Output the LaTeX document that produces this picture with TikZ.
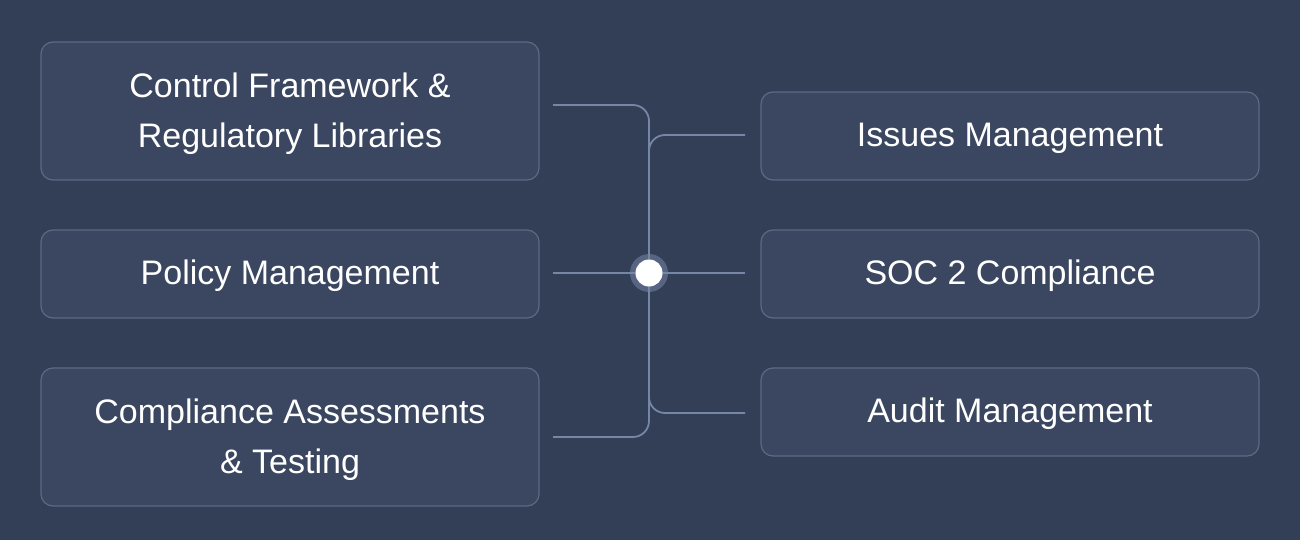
\documentclass[tikz,border=0pt]{standalone}
\usepackage{fontspec}
\setmainfont{Liberation Sans}
\definecolor{bg}{RGB}{51,62,87}
\definecolor{boxfill}{RGB}{59,71,96}
\definecolor{boxline}{RGB}{92,106,134}
\definecolor{wire}{RGB}{118,134,166}
\begin{document}
\begin{tikzpicture}[x=1pt,y=-1pt,
  card/.style={draw=boxline,fill=boxfill,line width=1.2pt,rounded corners=12pt,minimum width=498pt,inner sep=0pt},
  cardtext/.style={inner sep=0pt,align=center,text=white,font=\fontsize{34}{50}\selectfont},
  wireline/.style={draw=wire,line width=1.8pt,rounded corners=16pt}]
\fill[bg] (0,0) rectangle (1300,540);
\useasboundingbox (0,0) rectangle (1300,540);
\node[card,minimum height=138pt] (l1) at (290,111) {};
\node[card,minimum height=88pt] (l2) at (290,274) {};
\node[card,minimum height=138pt] (l3) at (290,437) {};
\node[card,minimum height=88pt] (r1) at (1010,136) {};
\node[card,minimum height=88pt] (r2) at (1010,274) {};
\node[card,minimum height=88pt] (r3) at (1010,412) {};
\node[cardtext] (l1t) at ([yshift=-3pt]l1.center) {Control Framework \&\\Regulatory Libraries};
\node[cardtext] (l2t) at ([yshift=-2pt]l2.center) {Policy Management};
\node[cardtext] (l3t) at ([yshift=-3pt]l3.center) {Compliance Assessments\\\& Testing};
\node[cardtext] (r1t) at ([yshift=-2pt]r1.center) {Issues Management};
\node[cardtext] (r2t) at ([yshift=-2pt]r2.center) {SOC 2 Compliance};
\node[cardtext] (r3t) at ([yshift=-2pt]r3.center) {Audit Management};
\coordinate (hub) at (649,273);
\coordinate (l1e) at (553,105);
\coordinate (l2e) at (553,273);
\coordinate (l3e) at (553,437);
\coordinate (r1e) at (745,135);
\coordinate (r2e) at (745,273);
\coordinate (r3e) at (745,413);
\draw[wireline] (l1e) -- (649,105) -- (649,437) -- (l3e);
\draw[wireline] (r1e) -- (649,135) -- (649,180);
\draw[wireline] (r3e) -- (649,413) -- (649,370);
\draw[wireline] (l2e) -- (r2e);
\fill[wire,opacity=0.55] (hub) circle (19);
\fill[white] (hub) circle (13.5);
\end{tikzpicture}
\end{document}
